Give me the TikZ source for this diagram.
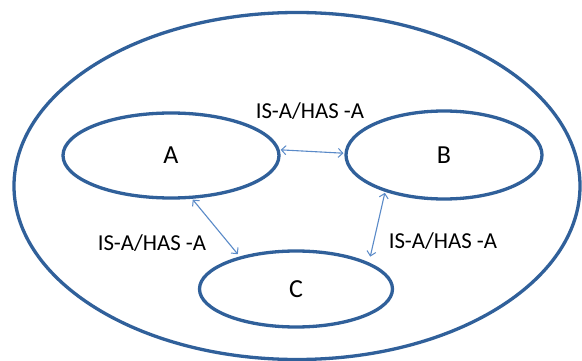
\documentclass[tikz,border=0pt]{standalone}
\usepackage{fontspec}
\setmainfont{Carlito}
\usetikzlibrary{shapes.geometric,arrows.meta}
\definecolor{outline}{HTML}{30609A}
\definecolor{conn}{HTML}{5A8AC8}
\begin{document}
\begin{tikzpicture}[x=1pt,y=-1pt,
  blob/.style={draw=outline, line width=3.3pt, ellipse, inner sep=0pt},
  barb/.tip={Straight Barb[length=4.5pt,width=9pt,line width=1pt]},
  rel/.style={draw=conn, line width=1.1pt, barb-barb, shorten <=1pt, shorten >=1pt},
  lbl/.style={font=\fontsize{22.8}{26}\selectfont, inner sep=0pt},
  big/.style={font=\fontsize{26}{30}\selectfont}]
\useasboundingbox (0,0) rectangle (582,361);
\fill[white] (0,0) rectangle (582,361);
\node[blob, minimum width=566pt, minimum height=347pt] (O) at (297,186) {};
\node[blob, minimum width=216pt, minimum height=85pt, big] (A) at (171,155.5) {A};
\node[blob, minimum width=196pt, minimum height=88pt, big] (B) at (444,155) {B};
\node[blob, minimum width=193pt, minimum height=76pt, big] (C) at (296,289) {C};
\draw[rel] (A.3) -- (B.179);
\draw[rel, shorten >=3pt] (A.-64) -- (C.150);
\draw[rel, shorten >=6pt] (B.-148) -- (C.20);
\node[lbl] (l1) at (310,111) {IS-A/HAS -A};
\node[lbl] (l2) at (152,243) {IS-A/HAS -A};
\node[lbl] (l3) at (443,241) {IS-A/HAS -A};
\end{tikzpicture}
\end{document}
